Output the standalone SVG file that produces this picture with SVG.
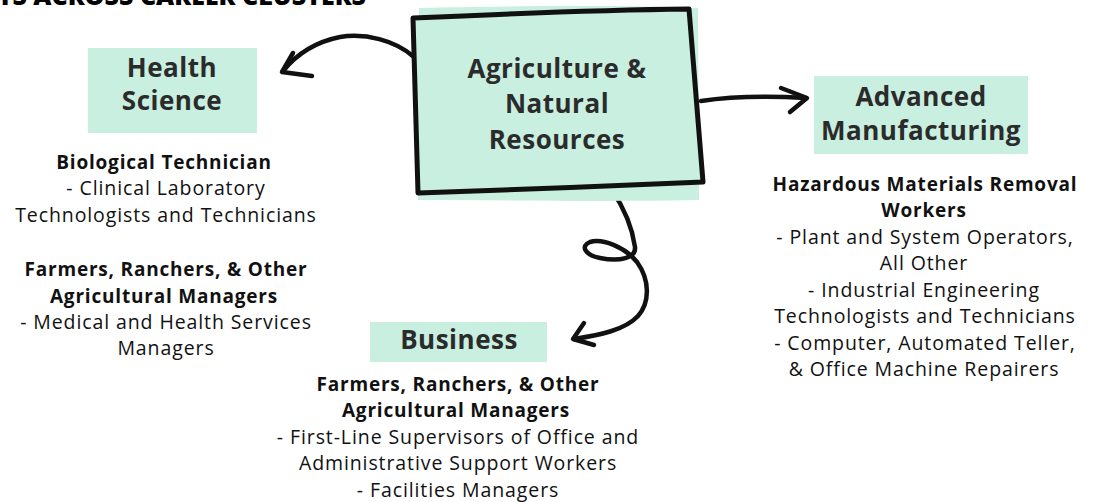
<svg xmlns="http://www.w3.org/2000/svg" width="1099" height="502" viewBox="0 0 1099 502">
<style>
.box{fill:#c8efdf}
.lbl{font-family:"Open Sans","Liberation Sans",sans-serif;font-weight:700;font-size:26px;letter-spacing:0.5px;fill:#2b2b2b;text-anchor:middle}
.b{font-family:"Open Sans","Liberation Sans",sans-serif;font-weight:700;font-size:19px;letter-spacing:0.8px;fill:#111;text-anchor:middle}
.r{font-family:"Open Sans","Liberation Sans",sans-serif;font-weight:400;font-size:19.5px;letter-spacing:0.9px;fill:#111;text-anchor:middle}
.ln{fill:none;stroke:#111;stroke-width:4.5;stroke-linecap:round;stroke-linejoin:round}
</style>
<rect width="1099" height="502" fill="#fff"/>
<text x="366" y="5" font-family="Open Sans, Liberation Sans, sans-serif" font-weight="800" font-size="25" fill="#000" text-anchor="end">TS ACROSS CAREER CLUSTERS</text>
<g id="connectors">
<path class="ln" d="M414,57 C395,40 365,33 340,37 C315,42 296,55 283,71"/>
<path class="ln" d="M293,53 L282,72 L312,76"/>
<path class="ln" d="M701,101 C735,96 770,96 806,98"/>
<path class="ln" d="M781,88 L807,98 L790,112"/>
<path class="ln" d="M612,190 C622,205 632,225 635,247 C636,258 620,262 600,258 C585,255 580,246 590,242 C602,238 625,247 637,262 C650,280 650,302 638,316 C625,330 600,335 574,339"/>
<path class="ln" d="M584,323 L573,339 L594,345"/>
</g>
<g id="agriculture">
<path class="box" d="M419,8 C500,6 620,5 698,8 L699,200 C600,202 500,200 418,200 Z"/>
<path d="M413,18 C500,14 600,10 689,9 C693,60 698,120 703,182 C610,186 510,190 418,193 C416,130 414,70 413,18 Z" fill="#c8efdf" stroke="#111" stroke-width="5" stroke-linejoin="round"/>
<text class="lbl" x="557" y="78">Agriculture &amp;</text>
<text class="lbl" x="557" y="113">Natural</text>
<text class="lbl" x="557" y="149">Resources</text>
</g>
<g id="health">
<rect class="box" x="88" y="48" width="169" height="85"/>
<text class="lbl" x="172" y="77">Health</text>
<text class="lbl" x="172" y="110">Science</text>
<text class="b" x="164" y="169">Biological Technician</text>
<text class="r" x="166" y="195">- Clinical Laboratory</text>
<text class="r" x="166" y="222">Technologists and Technicians</text>
<text class="b" x="166" y="276">Farmers, Ranchers, &amp; Other</text>
<text class="b" x="164" y="303">Agricultural Managers</text>
<text class="r" x="166" y="329">- Medical and Health Services</text>
<text class="r" x="166" y="355">Managers</text>
</g>
<g id="manufacturing">
<rect class="box" x="814" y="76" width="214" height="78"/>
<text class="lbl" x="921" y="106">Advanced</text>
<text class="lbl" x="921" y="140">Manufacturing</text>
<text class="b" x="925" y="191">Hazardous Materials Removal</text>
<text class="b" x="924" y="217">Workers</text>
<text class="r" x="925" y="244">- Plant and System Operators,</text>
<text class="r" x="924" y="270">All Other</text>
<text class="r" x="924" y="297">- Industrial Engineering</text>
<text class="r" x="925" y="323">Technologists and Technicians</text>
<text class="r" x="925" y="350">- Computer, Automated Teller,</text>
<text class="r" x="924" y="376">&amp; Office Machine Repairers</text>
</g>
<g id="business">
<rect class="box" x="370" y="322" width="177" height="40"/>
<text class="lbl" x="459" y="349">Business</text>
<text class="b" x="458" y="391">Farmers, Ranchers, &amp; Other</text>
<text class="b" x="456" y="417">Agricultural Managers</text>
<text class="r" x="458" y="444">- First-Line Supervisors of Office and</text>
<text class="r" x="458" y="470">Administrative Support Workers</text>
<text class="r" x="458" y="497">- Facilities Managers</text>
</g>
</svg>
